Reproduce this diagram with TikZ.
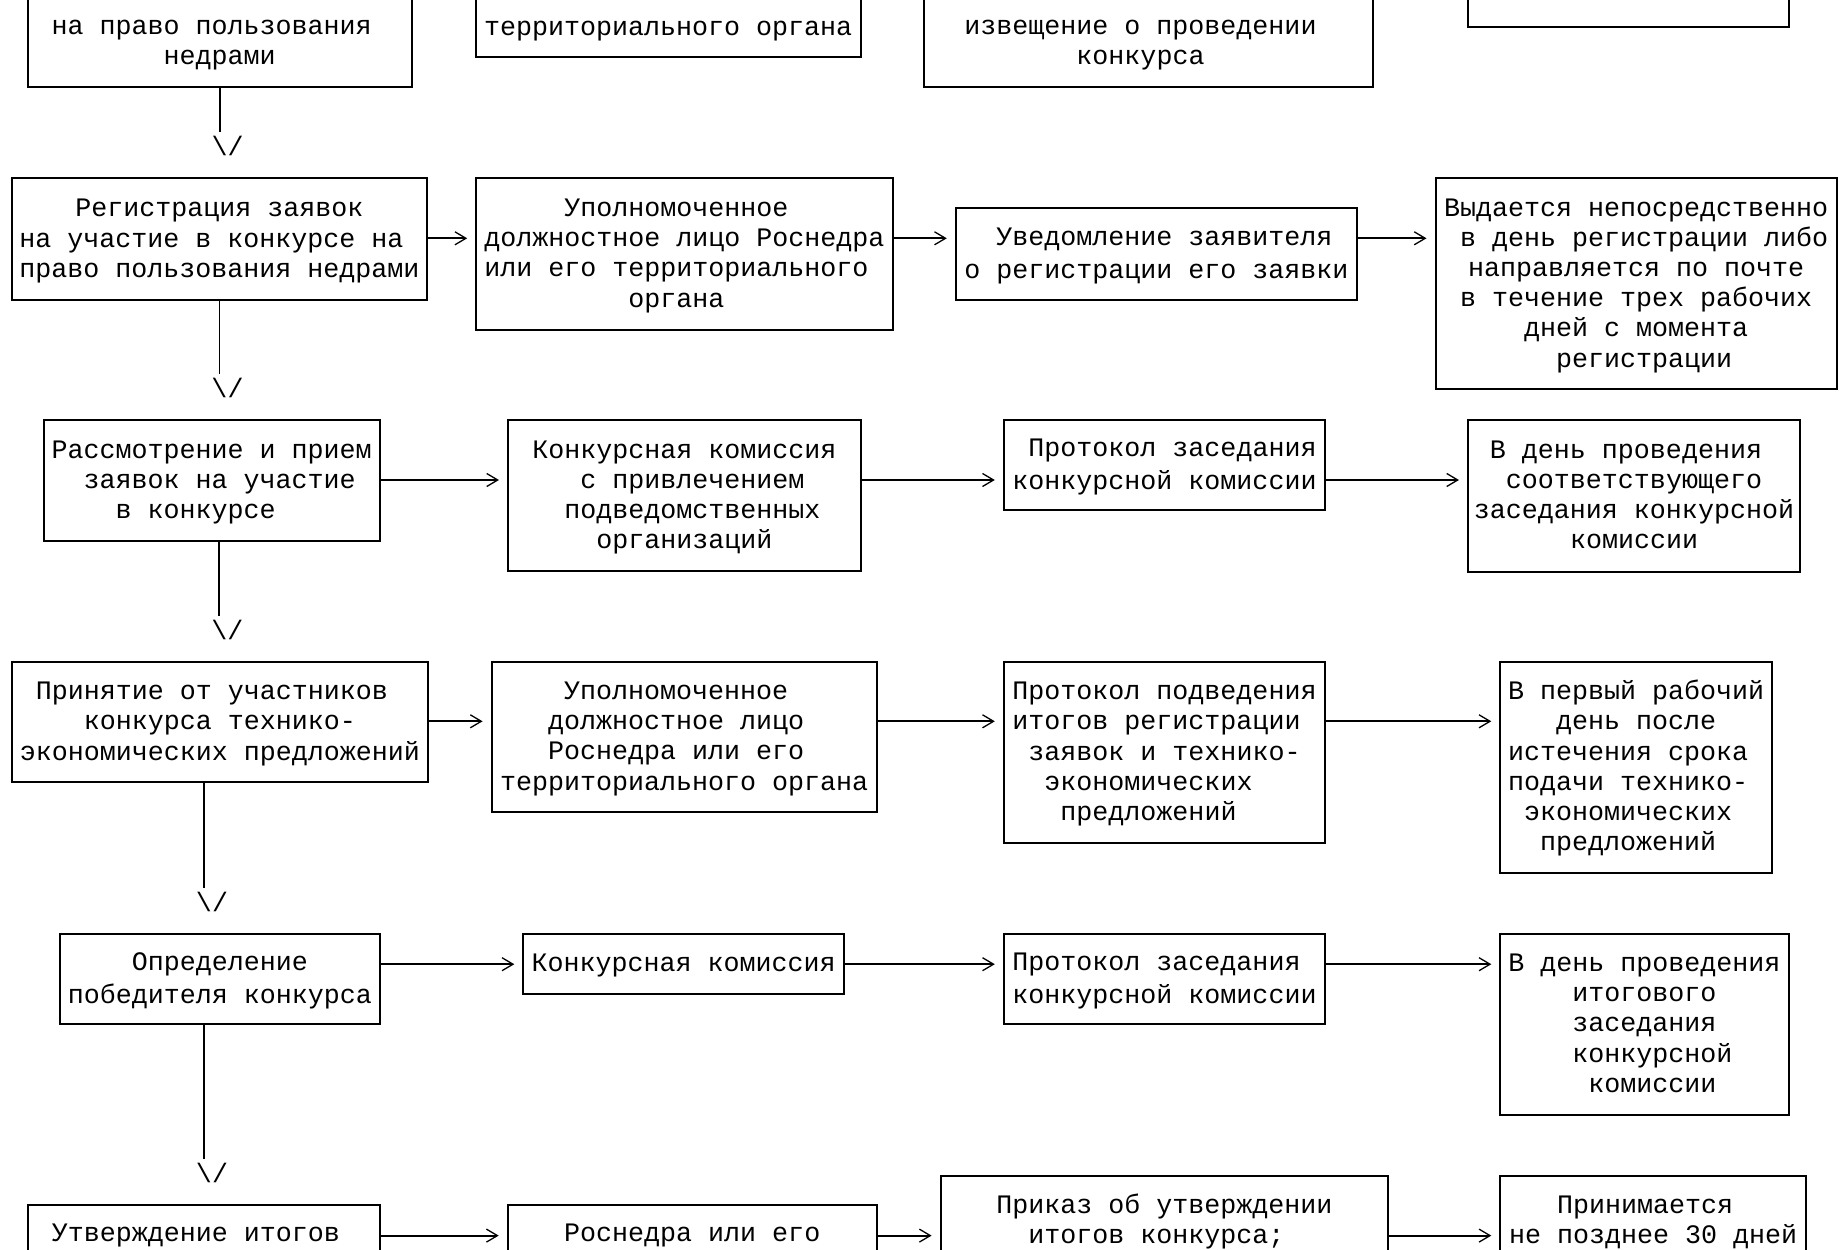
\documentclass[tikz,border=0pt]{standalone}
\usepackage{fontspec}
\newfontfamily\monof{Liberation Mono}
\usetikzlibrary{calc,arrows.meta}
\newcommand{\boxfont}{\monof\fontsize{26.67pt}{30.2pt}\selectfont}
\newcommand{\padch}{\hphantom{0}}
\newcommand{\tstrut}{\rule[-8pt]{0pt}{31.8pt}}

\tikzset{
  blk/.style={draw, line width=2pt, inner sep=0pt, outer sep=0pt, align=flush center,
    font=\boxfont, execute at begin node=\tstrut, execute at end node=\tstrut},
  sz/.style 2 args={minimum width=#1pt, text width=#1pt, minimum height=#2pt},
  arr/.style={line width=2pt, -{Straight Barb[length=11pt,width=13pt,line width=1.3pt]}, shorten >=9pt},
  dn/.style={line width=1.8pt},
  vee/.style={inner sep=0pt, font=\boxfont}
}

\begin{document}
\begin{tikzpicture}[x=1pt,y=-1pt]
\useasboundingbox (0,0) rectangle (1839,1250);
\fill[white] (0,0) rectangle (1839,1250);
\clip (0,0) rectangle (1839,1250);

% row 1 (cut at the top)
\node[blk, sz={383.5}{120.8}, anchor=south west] (A1) at (28,87.3) {\\на право пользования\padch\\недрами};
\node[blk, sz={385.5}{90.6}, anchor=south west] (B1) at (475.5,56.7) {\\территориального органа};
\node[blk, sz={449}{120.8}, anchor=south west] (C1) at (924,87.3) {\\извещение о проведении\padch\\конкурса\padch};
\node[blk, sz={320.5}{90}, anchor=south west] (D1) at (1468,26.7) {};

% row 2
\node[blk, sz={415.3}{121.9}, anchor=north west] (A2) at (11.7,178.3) {Регистрация заявок\\на участие в конкурсе на\padch\\право пользования недрами};
\node[blk, sz={416.3}{151.3}, anchor=north west] (B2) at (476.2,178.3) {Уполномоченное\padch\\должностное лицо Роснедра\\или его территориального\padch\\органа\padch};
\node[blk, sz={401.2}{92.6}, anchor=north west] (C2) at (955.8,207.6) {\padch Уведомление заявителя\\о регистрации его заявки};
\node[blk, sz={401.1}{210.7}, anchor=north west] (D2) at (1435.5,178.3) {Выдается непосредственно\\\padch в день регистрации либо\\направляется по почте\\в течение трех рабочих\\дней с момента\\\padch регистрации};

% row 3
\node[blk, sz={336.2}{120.7}, anchor=north west] (A3) at (43.6,420) {Рассмотрение и прием\\\padch заявок на участие\\в конкурсе\padch\padch};
\node[blk, sz={352.8}{151.2}, anchor=north west] (B3) at (508,420) {Конкурсная комиссия\\\padch с привлечением\\\padch подведомственных\\организаций};
\node[blk, sz={321.4}{90.2}, anchor=north west] (C3) at (1003.8,420) {\padch Протокол заседания\\конкурсной комиссии};
\node[blk, sz={332}{151.5}, anchor=north west] (D3) at (1468,420) {В день проведения\padch\\соответствующего\\заседания конкурсной\\комиссии};

% row 4
\node[blk, sz={416.3}{120.7}, anchor=north west] (A4) at (11.7,661.6) {Принятие от участников\padch\\конкурса технико-\\экономических предложений};
\node[blk, sz={384.9}{150.4}, anchor=north west] (B4) at (491.6,661.6) {Уполномоченное\padch\\должностное лицо\padch\\Роснедра или его\padch\\территориального органа};
\node[blk, sz={321.4}{181.1}, anchor=north west] (C4) at (1003.8,661.6) {Протокол подведения\\итогов регистрации\padch\\заявок и технико-\\экономических\padch\padch\\предложений\padch\padch};
\node[blk, sz={271.7}{211.4}, anchor=north west] (D4) at (1500.3,661.6) {В первый рабочий\\день после\\истечения срока\padch\\подачи технико-\padch\\экономических\padch\\предложений\padch};

% row 5
\node[blk, sz={319.8}{90.5}, anchor=north west] (A5) at (60,933.5) {Определение\\победителя конкурса};
\node[blk, sz={320.9}{60.8}, anchor=north west] (B5) at (523.3,933.5) {Конкурсная комиссия};
\node[blk, sz={321.4}{90.7}, anchor=north west] (C5) at (1003.8,933.5) {Протокол заседания\padch\\конкурсной комиссии};
\node[blk, sz={288.2}{181}, anchor=north west] (D5) at (1500.3,933.5) {В день проведения\\итогового\\заседания\\\padch конкурсной\\\padch комиссии};

% row 6 (cut at the bottom)
\node[blk, sz={352.2}{90.6}, anchor=north west] (A6) at (27.8,1205) {Утверждение итогов\padch\\};
\node[blk, sz={369.1}{90.6}, anchor=north west] (B6) at (507.7,1205) {Роснедра или его\\};
\node[blk, sz={447.7}{120.8}, anchor=north west] (C6) at (940.6,1175.5) {Приказ об утверждении\\итогов конкурса;\padch\\};
\node[blk, sz={305.7}{120.8}, anchor=north west] (D6) at (1500.3,1175.5) {Принимается\padch\\не позднее 30 дней\\};

% arrow levels
\coordinate (r2) at (0,238.3);
\coordinate (r3) at (0,480);
\coordinate (r4) at (0,721.3);
\coordinate (r5) at (0,964.2);
\coordinate (r6) at (0,1235.6);

\foreach \r in {2,...,6}
    {
        \foreach \p/\q in {A/B, B/C, C/D}
            \draw [arr] (\p\r.east |- r\r) -- (\q\r.west |- r\r);
    }

% down lines
\coordinate (d1) at (219.7,132.3);
\coordinate (d2) at (219.5,374);
\coordinate (d3) at (219.3,615.6);
\coordinate (d4) at (204,887.5);
\coordinate (d5) at (204,1159);

\foreach \a in {1,...,5}
    {
        \draw [dn] (A\a.south -| d\a) -- (d\a);
        \node [vee] (v\a) at ($(d\a) + (8,14)$) {\textbackslash/};
    }

\end{tikzpicture}
\end{document}
